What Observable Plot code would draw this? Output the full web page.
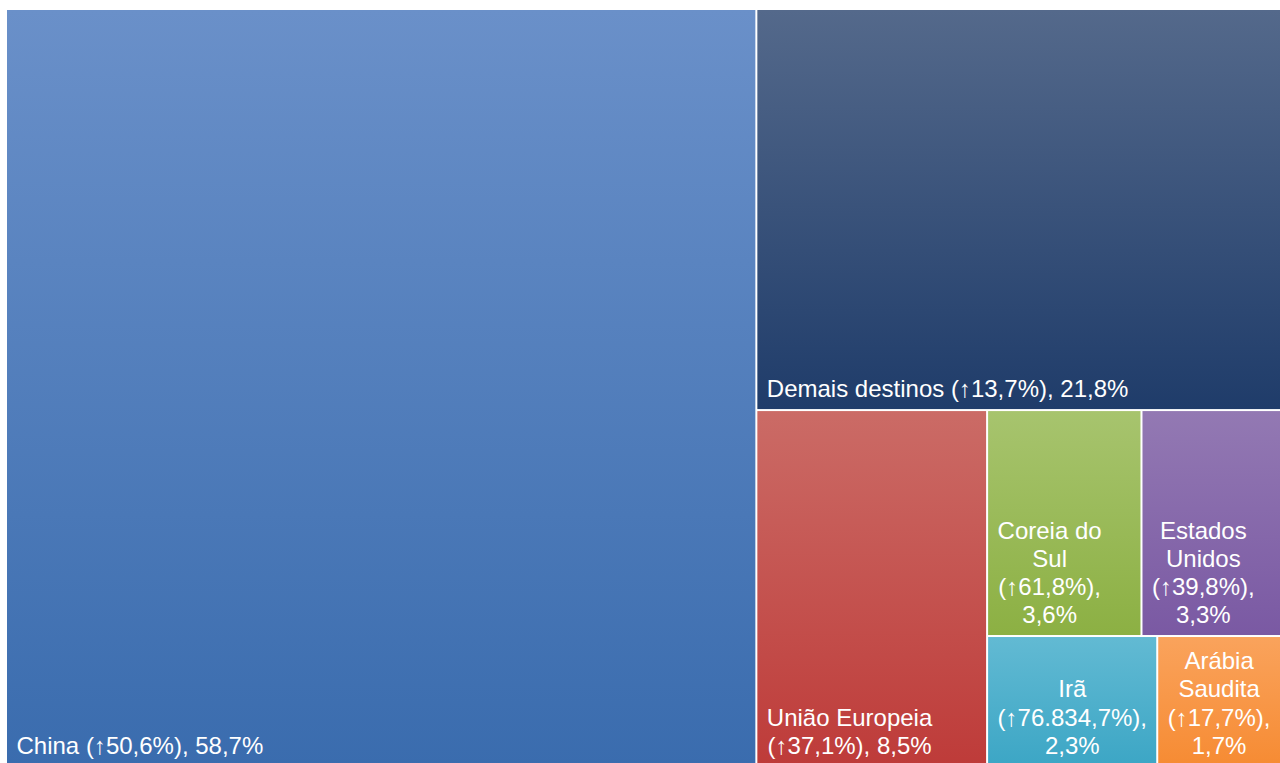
<!DOCTYPE html>
<html>
<head>
<meta charset="utf-8">
<script src="https://cdn.jsdelivr.net/npm/d3@7"></script>
<script src="https://cdn.jsdelivr.net/npm/@observablehq/plot@0.6"></script>
<style>
  html, body { margin: 0; padding: 0; background: #fff; overflow: hidden; width: 1280px; height: 763px; }
  #chart svg { max-width: none !important; }
</style>
</head>
<body>
<div id="chart"></div>
<script>
// ---- Data ----
const names  = ["China", "Demais destinos", "União Europeia", "Coreia do Sul", "Estados Unidos", "Irã", "Arábia Saudita"];
const growth = ["50,6%", "13,7%", "37,1%", "61,8%", "39,8%", "76.834,7%", "17,7%"];
const shares = [58.7, 21.8, 8.5, 3.6, 3.3, 2.3, 1.7];
const labels = [
  "China (↑50,6%), 58,7%",
  "Demais destinos (↑13,7%), 21,8%",
  "União Europeia\n(↑37,1%), 8,5%",
  "Coreia do\nSul\n(↑61,8%),\n3,6%",
  "Estados\nUnidos\n(↑39,8%),\n3,3%",
  "Irã\n(↑76.834,7%),\n2,3%",
  "Arábia\nSaudita\n(↑17,7%),\n1,7%"
];

// ---- Styles ----
const gradTop    = ["#6a90c9", "#54698b", "#cb6b66", "#a7c46e", "#9379b3", "#62bad3", "#faa35c"];
const gradBottom = ["#3a6cae", "#1f3c6a", "#be3b39", "#8cb043", "#7a59a3", "#3ca6c5", "#f68b33"];
const FONT = "Liberation Sans, Arial, sans-serif";
const FS = 24;
const X0 = 6, X1 = 1283, Y0 = 9, Y1 = 767;
const PAD = 10;

// ---- Layout (nested slice/dice treemap) ----
const leaf = i => ({i, value: shares[i]});
const tree = {children: [
  leaf(0),
  {children: [
    leaf(1),
    {children: [
      leaf(2),
      {children: [
        {children: [leaf(3), leaf(4)]},
        {children: [leaf(5), leaf(6)]}
      ]}
    ]}
  ]}
]};
const root = d3.treemap().tile(d3.treemapSliceDice).size([1, 1]).round(false)(
  d3.hierarchy(tree).sum(d => d.value || 0)
);

// measure text widths to center lines within the label block
const ctx = document.createElement("canvas").getContext("2d");
ctx.font = `${FS}px "Liberation Sans", Arial, sans-serif`;
const pxPerUnit = X1 - X0;

const tiles = root.leaves().map(n => {
  const i = n.data.i;
  const lines = labels[i].split("\n");
  const w = d3.max(lines, l => ctx.measureText(l).width);
  return {
    i, name: names[i], growth: growth[i], share: shares[i], label: labels[i],
    x0: n.x0, x1: n.x1, y0: n.y0, y1: n.y1,
    cx: n.x0 + (PAD + w / 2) / pxPerUnit
  };
});

const chart = Plot.plot({
  width: 1280,
  height: 763,
  margin: 0,
  x: {domain: [0, 1], range: [X0, X1], axis: null},
  y: {domain: [0, 1], range: [Y0, Y1], axis: null},
  color: {type: "identity"},
  style: {background: "white", fontFamily: FONT},
  marks: [
    Plot.rect(tiles, {
      x1: "x0", x2: "x1", y1: "y0", y2: "y1",
      fill: d => `url(#grad${d.i})`,
      inset: 1
    }),
    Plot.text(tiles, {
      x: "cx", y: "y1",
      text: "label",
      textAnchor: "middle",
      lineAnchor: "bottom",
      lineHeight: 1.167,
      dy: -14,
      fill: "white",
      fontSize: FS,
      fontFamily: FONT
    })
  ]
});

const defs = d3.select(chart).insert("defs", ":first-child");
tiles.forEach(t => {
  const g = defs.append("linearGradient")
    .attr("id", `grad${t.i}`)
    .attr("x1", 0).attr("y1", 0).attr("x2", 0).attr("y2", 1);
  g.append("stop").attr("offset", "0%").attr("stop-color", gradTop[t.i]);
  g.append("stop").attr("offset", "100%").attr("stop-color", gradBottom[t.i]);
});

document.getElementById("chart").appendChild(chart);
</script>
</body>
</html>
